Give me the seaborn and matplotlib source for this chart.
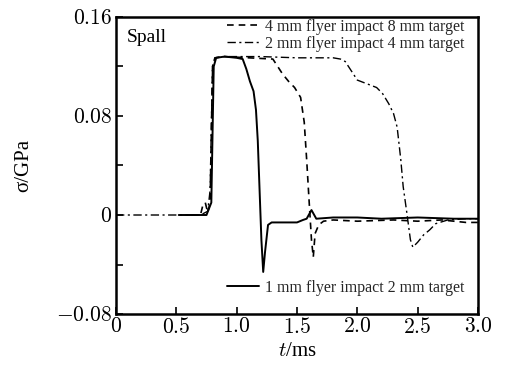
import numpy as np
import pandas as pd
import matplotlib
matplotlib.use("Agg")
import matplotlib.pyplot as plt
from matplotlib.lines import Line2D
import seaborn as sns

# ---- data ----
t_1mm = [0.52, 0.75, 0.79, 0.81, 0.83, 0.90, 1.00, 1.05, 1.08, 1.11, 1.14, 1.16, 1.175,
         1.19, 1.205, 1.22, 1.235, 1.26, 1.29, 1.40, 1.50, 1.55, 1.58, 1.62, 1.66,
         1.80, 2.00, 2.20, 2.50, 2.80, 3.00]
s_1mm = [0, 0, 0.010, 0.120, 0.127, 0.128, 0.127, 0.126, 0.118, 0.108, 0.100, 0.085,
         0.060, 0.020, -0.020, -0.046, -0.030, -0.008, -0.006, -0.006, -0.006, -0.004,
         -0.003, 0.004, -0.003, -0.002, -0.002, -0.003, -0.002, -0.003, -0.003]

t_4mm = [0.62, 0.70, 0.72, 0.74, 0.76, 0.78, 0.80, 0.82, 0.90, 1.10, 1.30, 1.34, 1.38,
         1.43, 1.48, 1.53, 1.56, 1.58, 1.60, 1.62, 1.635, 1.65, 1.68, 1.72, 1.80,
         2.00, 2.30, 2.50, 2.70, 2.90, 3.00]
s_4mm = [0, 0, 0.008, 0.010, 0.002, 0.010, 0.120, 0.127, 0.128, 0.127, 0.126, 0.120,
         0.114, 0.108, 0.103, 0.095, 0.075, 0.045, 0.012, -0.020, -0.034, -0.015,
         -0.008, -0.005, -0.004, -0.005, -0.004, -0.005, -0.004, -0.006, -0.006]

t_2mm = [0, 0.70, 0.76, 0.78, 0.80, 0.82, 0.90, 1.20, 1.50, 1.80, 1.86, 1.90, 1.94,
         2.00, 2.08, 2.16, 2.21, 2.26, 2.30, 2.33, 2.36, 2.38, 2.41, 2.44, 2.46, 2.50,
         2.55, 2.60, 2.65, 2.75, 2.90, 3.00]
s_2mm = [0, 0, 0.003, 0.020, 0.120, 0.127, 0.128, 0.128, 0.127, 0.127, 0.126, 0.124,
         0.118, 0.109, 0.106, 0.103, 0.098, 0.090, 0.082, 0.071, 0.045, 0.023, 0.002,
         -0.020, -0.026, -0.022, -0.016, -0.012, -0.007, -0.004, -0.003, -0.003]

labels = ["1 mm flyer impact 2 mm target",
          "4 mm flyer impact 8 mm target",
          "2 mm flyer impact 4 mm target"]
x_ticks = [0, 0.5, 1.0, 1.5, 2.0, 2.5, 3.0]
x_tick_labels = ["0", "0.5", "1.0", "1.5", "2.0", "2.5", "3.0"]
y_ticks = [-0.08, 0, 0.08, 0.16]
y_tick_labels = ["\u22120.08", "0", "0.08", "0.16"]
y_minor = [-0.04, 0.04, 0.12]

# ---- plot ----
sns.set_style("ticks")
plt.rcParams["font.family"] = ["Liberation Serif", "DejaVu Serif"]
plt.rcParams["mathtext.fontset"] = "cm"

fig = plt.figure(figsize=(5.05, 3.69), dpi=100)
ax = fig.add_axes([0.2297, 0.149, 0.7168, 0.805])

styles = [("-", 1.4), ((0, (4, 3)), 1.2), ((0, (6, 2.5, 1.5, 2.5)), 1.0)]
data = [(t_1mm, s_1mm), (t_4mm, s_4mm), (t_2mm, s_2mm)]
for (t, s), lab, (ls, lw) in zip(data, labels, styles):
    df = pd.DataFrame({"t": t, "s": s})
    sns.lineplot(data=df, x="t", y="s", ax=ax, color="black",
                 linestyle=ls, linewidth=lw, legend=False)

ax.set_xlim(0, 3.0)
ax.set_ylim(-0.08, 0.16)
ax.set_xticks(x_ticks)
ax.set_xticklabels(["$" + l + "$" for l in x_tick_labels], fontsize=15.5)
ax.set_yticks(y_ticks)
ax.set_yticklabels(["$" + l.replace("\u2212", "-") + "$" for l in y_tick_labels], fontsize=15.5)
ax.set_yticks(y_minor, minor=True)
ax.tick_params(axis="both", which="both", direction="in", length=5, width=1.2,
               top=False, right=False, pad=3, color="black", labelcolor="black")
for sp in ax.spines.values():
    sp.set_linewidth(1.8)
    sp.set_color("black")
    sp.set_visible(True)

ax.set_xlabel("$t$/ms", fontsize=15, labelpad=3, color="black")
ax.set_ylabel("\u03c3/GPa", fontsize=15, labelpad=16, color="black")

ax.text(0.03, 0.96, "Spall", transform=ax.transAxes, fontsize=14,
        ha="left", va="top", color="black")

h = [Line2D([], [], color="black", linestyle=st[0], linewidth=st[1]) for st in styles]
leg1 = ax.legend([h[1], h[2]], [labels[1], labels[2]], loc="upper right",
                 frameon=False, fontsize=11.5, handlelength=2.0, handletextpad=0.4,
                 labelspacing=0.05, borderaxespad=0.0, bbox_to_anchor=(0.98, 1.015))
ax.add_artist(leg1)
ax.legend([h[0]], [labels[0]], loc="lower right", frameon=False, fontsize=11.5,
          handlelength=2.0, handletextpad=0.4, borderaxespad=0.0,
          bbox_to_anchor=(0.98, 0.04))

fig.savefig("out.png", dpi=100)
